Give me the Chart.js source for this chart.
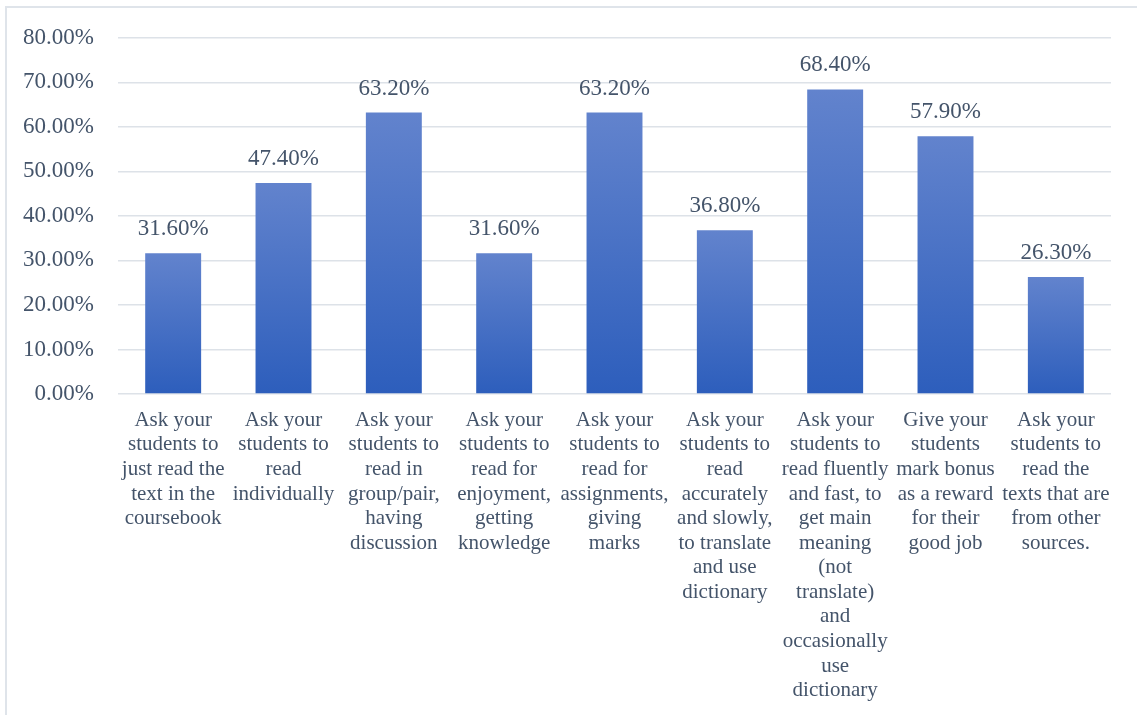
<!DOCTYPE html>
<html>
<head>
<meta charset="utf-8">
<script src="https://cdn.jsdelivr.net/npm/chart.js@4/dist/chart.umd.min.js"></script>
<style>
  html, body { margin: 0; padding: 0; background: #fff; overflow: hidden; }
  #wrap { position: relative; width: 1137px; height: 715px; }
  #frame {
    position: absolute; left: 5px; top: 6px; width: 1200px; height: 800px;
    border: 2px solid #dfe4ea; pointer-events: none;
  }
  canvas { position: absolute; left: 0; top: 0; }
</style>
</head>
<body>
<div id="wrap">
  <canvas id="chart" width="1137" height="715"></canvas>
  <div id="frame"></div>
</div>
<script>
// reading strategies, one label per bar (split into lines)
const categories = [
  ["Ask your", "students to", "just read the", "text in the", "coursebook"],
  ["Ask your", "students to", "read", "individually"],
  ["Ask your", "students to", "read in", "group/pair,", "having", "discussion"],
  ["Ask your", "students to", "read for", "enjoyment,", "getting", "knowledge"],
  ["Ask your", "students to", "read for", "assignments,", "giving", "marks"],
  ["Ask your", "students to", "read", "accurately", "and slowly,", "to translate", "and use", "dictionary"],
  ["Ask your", "students to", "read fluently", "and fast, to", "get main", "meaning", "(not", "translate)", "and", "occasionally", "use", "dictionary"],
  ["Give your", "students", "mark bonus", "as a reward", "for their", "good job"],
  ["Ask your", "students to", "read the", "texts that are", "from other", "sources."]
];
const percentages = [31.6, 47.4, 63.2, 31.6, 63.2, 36.8, 68.4, 57.9, 26.3];

const textColor = "#44546a";
const serif = "'Liberation Serif', 'Times New Roman', serif";

// vertical gradient per bar, from its top down to the zero line
function barGradient(ctx) {
  const chart = ctx.chart;
  if (!chart.chartArea) return "#4a72c8";
  const y = chart.scales.y;
  const top = y.getPixelForValue(ctx.raw);
  const base = y.getPixelForValue(0);
  const g = chart.ctx.createLinearGradient(0, top, 0, base);
  g.addColorStop(0, "#6283cd");
  g.addColorStop(1, "#2d5ebc");
  return g;
}

// value labels above each bar
const valueLabels = {
  id: "valueLabels",
  afterDatasetsDraw(chart) {
    const ctx = chart.ctx;
    const meta = chart.getDatasetMeta(0);
    ctx.save();
    ctx.font = "23px " + serif;
    ctx.fillStyle = textColor;
    ctx.textAlign = "center";
    ctx.textBaseline = "alphabetic";
    meta.data.forEach((bar, i) => {
      ctx.fillText(percentages[i].toFixed(2) + "%", bar.x, bar.y - 18);
    });
    ctx.restore();
  }
};

new Chart(document.getElementById("chart"), {
  type: "bar",
  data: {
    labels: categories,
    datasets: [{
      data: percentages,
      backgroundColor: barGradient,
      borderWidth: 0,
      barPercentage: 0.507,
      categoryPercentage: 1
    }]
  },
  options: {
    responsive: false,
    animation: false,
    layout: { padding: { top: 37, right: 26, left: 0, bottom: 0 } },
    plugins: {
      legend: { display: false },
      tooltip: { enabled: false }
    },
    scales: {
      x: {
        grid: { display: false },
        border: { display: false },
        ticks: {
          autoSkip: false,
          maxRotation: 0,
          minRotation: 0,
          padding: 6,
          color: textColor,
          font: { family: serif, size: 21, lineHeight: 1.17 }
        },
        afterFit(scale) { scale.height = 715 - 394; }
      },
      y: {
        min: 0,
        max: 80,
        grid: { color: "#dde2e8", lineWidth: 1.5, drawTicks: false },
        border: { display: false },
        ticks: {
          stepSize: 10,
          padding: 24,
          color: textColor,
          font: { family: serif, size: 23 },
          callback: (v) => v.toFixed(2) + "%"
        },
        afterFit(scale) { scale.width = 118; }
      }
    }
  },
  plugins: [valueLabels]
});
</script>
</body>
</html>
